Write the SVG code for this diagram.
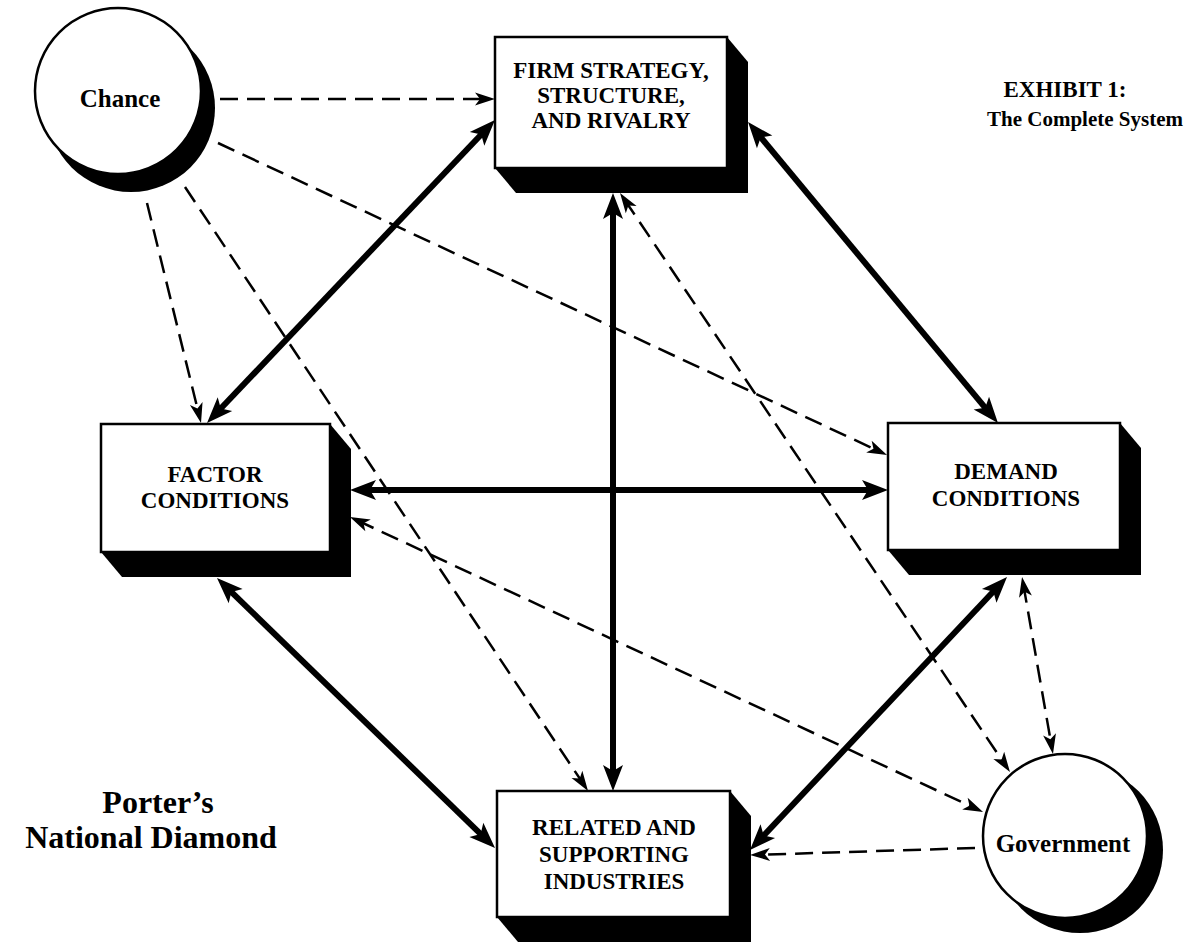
<svg xmlns="http://www.w3.org/2000/svg" width="1186" height="944" viewBox="0 0 1186 944">
<style>
.bg{fill:#fff}
.shadow{fill:#000}
.box{fill:#fff;stroke:#000;stroke-width:2.5}
.lbl{font-family:"Liberation Serif","Times New Roman",serif;font-weight:bold;fill:#000;text-anchor:middle}
.bl{font-size:23px}
.cl{font-size:25px}
.solid{stroke:#000;stroke-width:6;fill:none}
.dash{stroke:#000;stroke-width:2.5;fill:none;stroke-dasharray:18 9}
</style>
<defs>
<marker id="ah" markerUnits="userSpaceOnUse" viewBox="-16 -12 30 24" refX="0" refY="0" markerWidth="30" markerHeight="24" orient="auto-start-reverse">
<path d="M12,0 L-14,-10 L-8,0 L-14,10 Z" fill="#000"/>
</marker>
<marker id="dh" markerUnits="userSpaceOnUse" viewBox="-14 -8 24 16" refX="0" refY="0" markerWidth="24" markerHeight="16" orient="auto-start-reverse">
<path d="M8,0 L-12,-6.5 L-7,0 L-12,6.5 Z" fill="#000"/>
</marker>
</defs>
<rect class="bg" x="0" y="0" width="1186" height="944"/>

<g id="chance">
<circle class="shadow" cx="131" cy="108" r="84"/>
<circle class="box" cx="118" cy="91" r="83"/>
<text class="lbl cl" x="120" y="107">Chance</text>
</g>

<g id="government">
<circle class="shadow" cx="1080" cy="850" r="83"/>
<circle class="box" cx="1065" cy="836" r="82"/>
<text class="lbl cl" x="1063" y="852">Government</text>
</g>

<g id="firm">
<polygon class="shadow" points="727,37 748,62 748,193 516,193 495,168"/>
<rect class="box" x="495" y="37" width="232" height="131"/>
<text class="lbl bl" x="611" y="78">FIRM STRATEGY,</text>
<text class="lbl bl" x="611" y="103">STRUCTURE,</text>
<text class="lbl bl" x="611" y="128">AND RIVALRY</text>
</g>

<g id="factor">
<polygon class="shadow" points="330,424 351,449 351,577 122,577 101,552"/>
<rect class="box" x="101" y="424" width="229" height="128"/>
<text class="lbl bl" x="215" y="482">FACTOR</text>
<text class="lbl bl" x="215" y="508">CONDITIONS</text>
</g>

<g id="demand">
<polygon class="shadow" points="1120,423 1141,448 1141,575 909,575 888,550"/>
<rect class="box" x="888" y="423" width="232" height="127"/>
<text class="lbl bl" x="1006" y="479">DEMAND</text>
<text class="lbl bl" x="1006" y="506">CONDITIONS</text>
</g>

<g id="related">
<polygon class="shadow" points="730,791 751,816 751,942 518,942 497,917"/>
<rect class="box" x="497" y="791" width="233" height="126"/>
<text class="lbl bl" x="614" y="835">RELATED AND</text>
<text class="lbl bl" x="614" y="862">SUPPORTING</text>
<text class="lbl bl" x="614" y="889">INDUSTRIES</text>
</g>

<g id="connectors">
<line class="solid" x1="486.7" y1="128.7" x2="215.3" y2="414.3" marker-start="url(#ah)" marker-end="url(#ah)"/>
<line class="solid" x1="755.7" y1="131.2" x2="990.3" y2="413.8" marker-start="url(#ah)" marker-end="url(#ah)"/>
<line class="solid" x1="613" y1="205" x2="613" y2="779" marker-start="url(#ah)" marker-end="url(#ah)"/>
<line class="solid" x1="362" y1="490" x2="876" y2="490" marker-start="url(#ah)" marker-end="url(#ah)"/>
<line class="solid" x1="225.6" y1="586.4" x2="486.4" y2="839.6" marker-start="url(#ah)" marker-end="url(#ah)"/>
<line class="solid" x1="998.8" y1="585.7" x2="758.2" y2="841.3" marker-start="url(#ah)" marker-end="url(#ah)"/>

<line class="dash" x1="220" y1="99" x2="487" y2="99" marker-end="url(#dh)"/>
<line class="dash" x1="147" y1="203" x2="199.1" y2="415.2" marker-end="url(#dh)"/>
<line class="dash" x1="185" y1="187" x2="583.6" y2="784.3" marker-end="url(#dh)"/>
<line class="dash" x1="218" y1="143" x2="879.8" y2="451.6" marker-end="url(#dh)"/>
<line class="dash" x1="624.5" y1="199.6" x2="1005.5" y2="765.4" marker-start="url(#dh)" marker-end="url(#dh)"/>
<line class="dash" x1="1023.4" y1="584.9" x2="1051.6" y2="746.1" marker-start="url(#dh)" marker-end="url(#dh)"/>
<line class="dash" x1="357.2" y1="520.4" x2="975.8" y2="808.6" marker-start="url(#dh)" marker-end="url(#dh)"/>
<line class="dash" x1="975" y1="848" x2="758" y2="854.8" marker-end="url(#dh)"/>
</g>

<g id="titles">
<text class="lbl" style="font-size:23px" x="1065" y="97">EXHIBIT 1:</text>
<text class="lbl" style="font-size:21px;text-anchor:end" x="1183" y="126">The Complete System</text>
<text class="lbl" style="font-size:32px" x="158" y="813">Porter’s</text>
<text class="lbl" style="font-size:32px" x="151" y="848">National Diamond</text>
</g>
</svg>
